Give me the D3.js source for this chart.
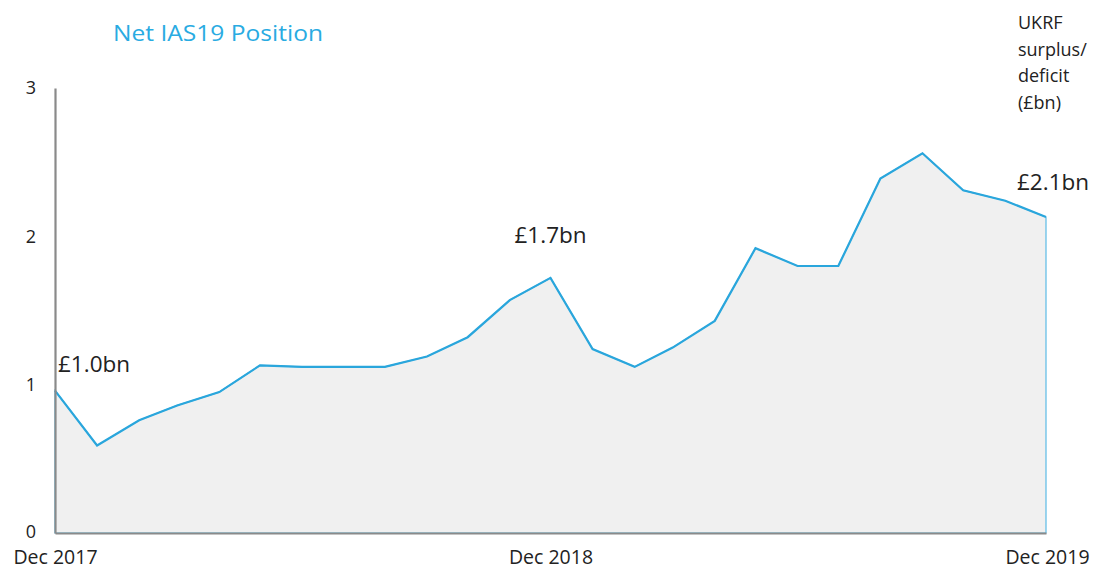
<!DOCTYPE html>
<html>
<head>
<meta charset="utf-8">
<script src="https://cdn.jsdelivr.net/npm/d3@7"></script>
<style>
  html, body { margin: 0; padding: 0; background: #fff; }
  svg { display: block; }
  text { font-family: "Open Sans", "Noto Sans", sans-serif; }
</style>
</head>
<body>
<div id="chart"></div>
<script>
// Monthly month-end UKRF IAS19 position, Dec 2017 – Dec 2019 (£bn)
const months = [
  "2017-12", "2018-01", "2018-02", "2018-03", "2018-04", "2018-05", "2018-06",
  "2018-07", "2018-08", "2018-09", "2018-10", "2018-11", "2018-12",
  "2019-01", "2019-02", "2019-03", "2019-04", "2019-05", "2019-06",
  "2019-07", "2019-08", "2019-09", "2019-10", "2019-11", "2019-12"
];
const surplus = [
  0.96, 0.59, 0.76, 0.86, 0.95, 1.13, 1.12, 1.12, 1.12, 1.19, 1.32, 1.57, 1.72,
  1.24, 1.12, 1.25, 1.43, 1.92, 1.80, 1.80, 2.39, 2.56, 2.31, 2.24, 2.13
];
const xTickMonths = ["2017-12", "2018-12", "2019-12"];
const yTicks = [0, 1, 2, 3];
const labelledMonths = ["2017-12", "2018-12", "2019-12"];
const unitLines = ["UKRF", "surplus/", "deficit", "(£bn)"];
const title = "Net IAS19 Position";

const W = 1096, H = 569;
const parse = d3.timeParse("%Y-%m");
const data = months.map((m, i) => ({ date: parse(m), value: surplus[i], key: m }));

const svg = d3.select("#chart").append("svg").attr("width", W).attr("height", H);

const x = d3.scaleTime()
  .domain(d3.extent(data, d => d.date))
  .range([55, 1046]);
const y = d3.scaleLinear().domain([0, 3]).range([533, 88]);

// shaded area under the line
svg.append("path")
  .datum(data)
  .attr("fill", "#f0f0f0")
  .attr("stroke", "#5bbbe6")
  .attr("stroke-width", 1.2)
  .attr("d", d3.area().x(d => x(d.date)).y0(y(0)).y1(d => y(d.value)));

// main line
svg.append("path")
  .datum(data)
  .attr("fill", "none")
  .attr("stroke", "#2aa6dc")
  .attr("stroke-width", 2.2)
  .attr("stroke-linejoin", "miter")
  .attr("d", d3.line().x(d => x(d.date)).y(d => y(d.value)));

// axes
const yAxis = svg.append("g")
  .attr("transform", `translate(${x.range()[0]},0)`)
  .call(d3.axisLeft(y).tickValues(yTicks).tickSize(0).tickPadding(24).tickFormat(d3.format("d")));
const xAxis = svg.append("g")
  .attr("transform", `translate(0,${y(0)})`)
  .call(d3.axisBottom(x).tickValues(xTickMonths.map(parse)).tickSize(0).tickPadding(17)
    .tickFormat(d3.timeFormat("Dec %Y")));

[yAxis, xAxis].forEach(g => {
  g.select(".domain").attr("stroke", "#8a8a8a").attr("stroke-width", 2.2);
  g.selectAll("text").attr("fill", "#222").style("font-family", "'Open Sans', sans-serif");
});
yAxis.selectAll("text").attr("text-anchor", "middle").style("font-size", "18px");
yAxis.selectAll(".tick").filter(d => d === 0).select("text").attr("dy", "0.26em");
xAxis.selectAll("text").style("font-size", "19.5px");
// the last date label sits flush with the right edge
xAxis.selectAll(".tick").filter((d, i, n) => i === n.length - 1).select("text").attr("dx", "1");

// value annotations, offset from the point they describe
const fmt = d3.format(".1f");
const annotOffset = { "2017-12": [3, -19], "2018-12": [-36, -35], "2019-12": [-29, -27] };
svg.append("g").selectAll("text")
  .data(data.filter(d => labelledMonths.includes(d.key)))
  .join("text")
  .attr("x", d => x(d.date) + annotOffset[d.key][0])
  .attr("y", d => y(d.value) + annotOffset[d.key][1])
  .attr("fill", "#222")
  .style("font-size", "22.5px")
  .text(d => `£${fmt(d.value)}bn`);

// title
svg.append("text")
  .attr("x", 113).attr("y", 41)
  .attr("fill", "#29abe2")
  .attr("textLength", 210)
  .attr("lengthAdjust", "spacingAndGlyphs")
  .style("font-size", "21px")
  .style("font-weight", "500")
  .text(title);

// units note
svg.append("text")
  .attr("x", 1018).attr("y", 29)
  .attr("fill", "#222")
  .style("font-size", "18px")
  .selectAll("tspan")
  .data(unitLines)
  .join("tspan")
  .attr("x", 1018)
  .attr("dy", (d, i) => i === 0 ? 0 : 26.5)
  .text(d => d);
</script>
</body>
</html>
